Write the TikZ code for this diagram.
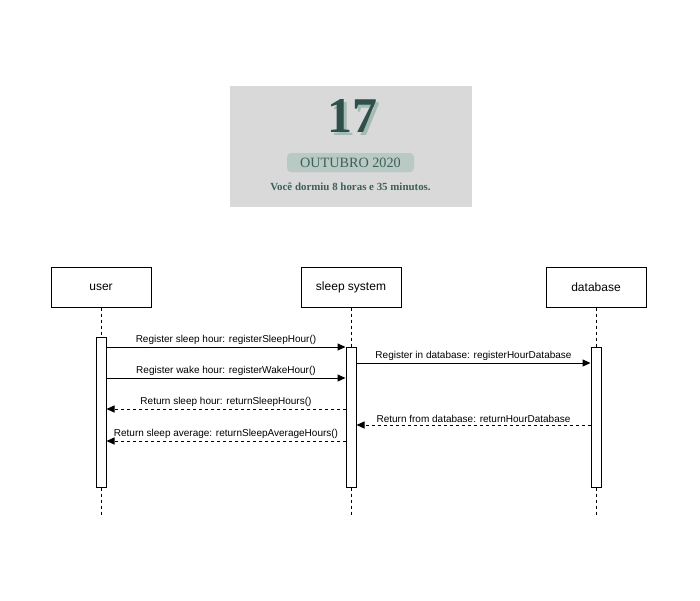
\documentclass[tikz,border=0pt]{standalone}
\usepackage{fontspec}
\setsansfont{Liberation Sans}
\newfontfamily\cardfont{Liberation Serif}
\usetikzlibrary{arrows.meta}
\definecolor{cardgray}{HTML}{D9D9D9}
\definecolor{darkpine}{HTML}{2E4F4A}
\definecolor{palepine}{HTML}{A3BBB3}
\definecolor{badgepine}{HTML}{B9C9C4}
\definecolor{textpine}{HTML}{3F5F5A}

\begin{document}
\begin{tikzpicture}[x=1pt, y=-1pt,
    actor/.style={draw, line width=1pt, minimum width=100pt, minimum height=40pt,
        font=\sffamily\fontsize{12}{14}\selectfont},
    lifeline/.style={dashed, line width=1pt},
    bar/.style={draw, fill=white, line width=1pt, minimum width=10pt, inner sep=0pt},
    call/.style={line width=1pt, -{Triangle[length=8pt,width=7pt]}},
    reply/.style={call, dashed},
    msg/.style={above, inner sep=2pt, font=\sffamily\fontsize{10}{11}\selectfont},
]
    \useasboundingbox (0,0) rectangle (700,600);

    % date card
    \fill [cardgray] (230,86) rectangle (472,207);
    \node [palepine, font=\cardfont\bfseries\fontsize{50}{50}\selectfont] (dayshade) at (355,119) {17};
    \node [darkpine, font=\cardfont\bfseries\fontsize{50}{50}\selectfont] (day) at (352,116) {17};
    \node [fill=badgepine, rounded corners=4pt, minimum width=127pt, minimum height=19pt,
        text=textpine, font=\cardfont\fontsize{14.2}{15}\selectfont] (month) at (350.5,162.5) {OUTUBRO 2020};
    \node [text=textpine, font=\cardfont\bfseries\fontsize{10.9}{12}\selectfont] (slept) at (350.5,187) {Você dormiu 8 horas e 35 minutos.};

    % actors
    \node [actor] (user) at (101,287) {user};
    \node [actor] (sys) at (351,287) {sleep system};
    \node [actor] (db) at (596,287) {database};

    \coordinate (uend) at (101,515);
    \coordinate (send) at (351,515);
    \coordinate (dend) at (596,515);
    \draw [lifeline] (user) -- (uend);
    \draw [lifeline] (sys) -- (send);
    \draw [lifeline] (db) -- (dend);

    \node [bar, minimum height=150pt] (ubar) at (101,412) {};
    \node [bar, minimum height=140pt] (sbar) at (351,417) {};
    \node [bar, minimum height=140pt] (dbar) at (596,417) {};

    % messages
    \coordinate (r1) at (0,347);
    \coordinate (r2) at (0,363);
    \coordinate (r3) at (0,378);
    \coordinate (r4) at (0,409);
    \coordinate (r5) at (0,425);
    \coordinate (r6) at (0,441);
    \draw [call] (ubar.east |- r1) -- node [msg] {Register sleep hour: registerSleepHour()} (sbar.west |- r1);
    \draw [call] (sbar.east |- r2) -- node [msg] {Register in database: registerHourDatabase} (dbar.west |- r2);
    \draw [call] (ubar.east |- r3) -- node [msg] {Register wake hour: registerWakeHour()} (sbar.west |- r3);
    \draw [reply] (sbar.west |- r4) -- node [msg] {Return sleep hour: returnSleepHours()} (ubar.east |- r4);
    \draw [reply] (dbar.west |- r5) -- node [msg] {Return from database: returnHourDatabase} (sbar.east |- r5);
    \draw [reply] (sbar.west |- r6) -- node [msg] {Return sleep average: returnSleepAverageHours()} (ubar.east |- r6);
\end{tikzpicture}
\end{document}
